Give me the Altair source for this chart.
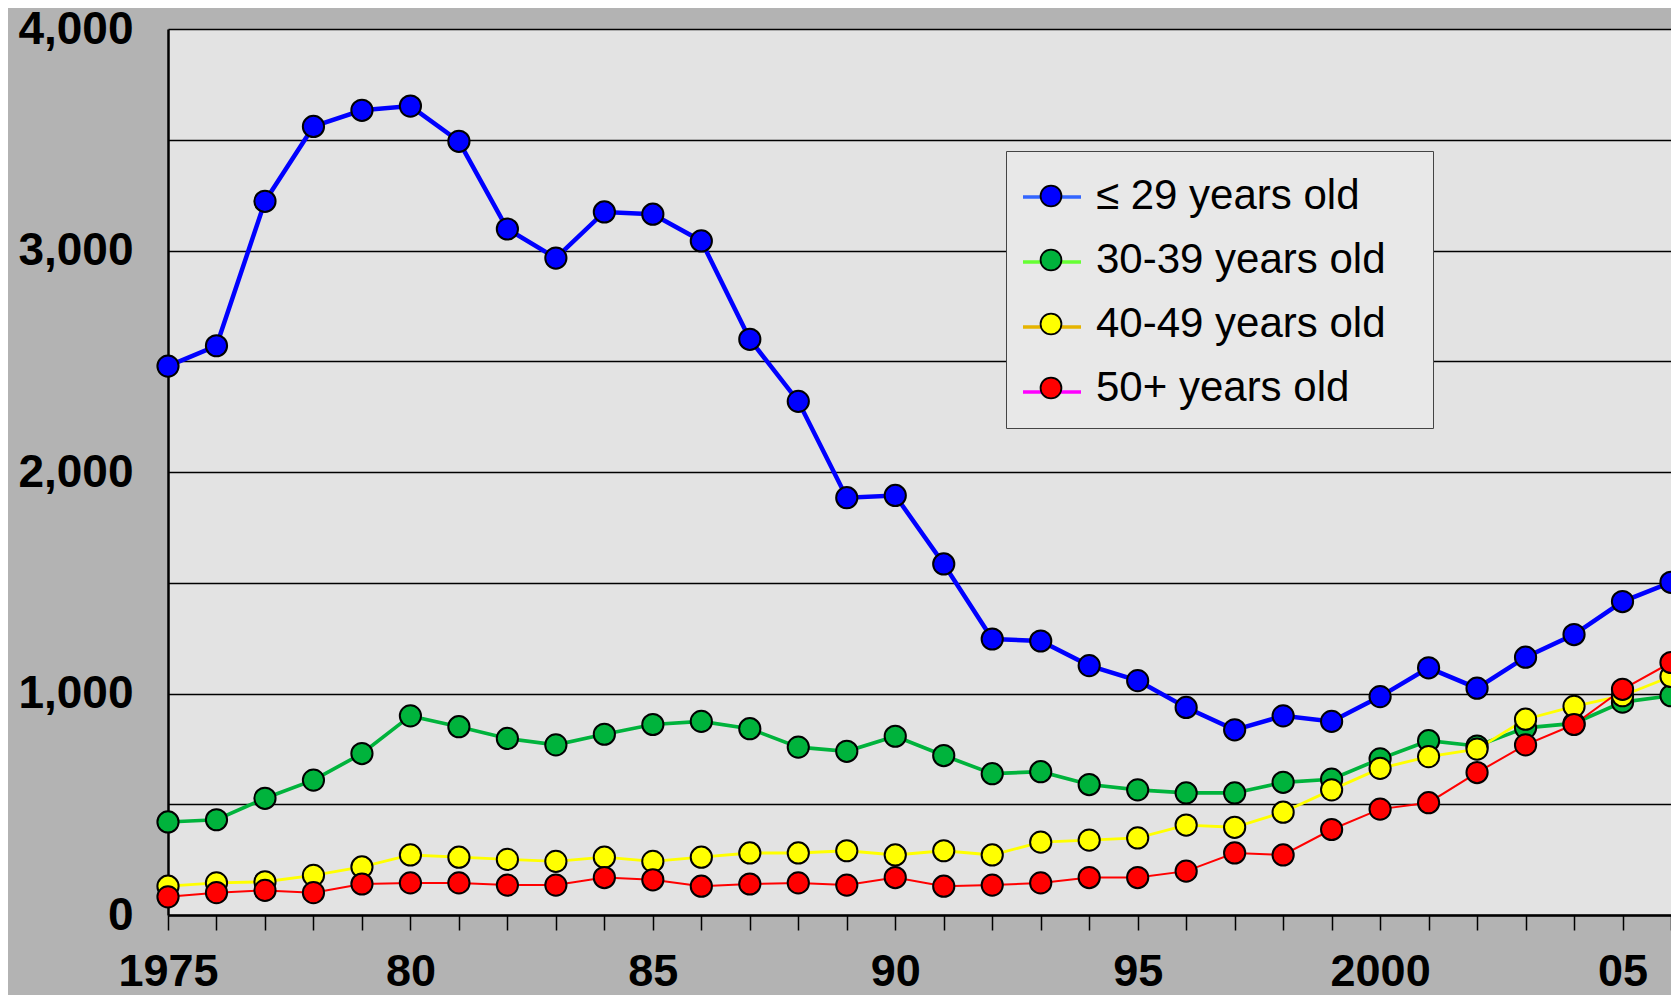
import altair as alt
import pandas as pd

years = list(range(1975, 2007))
groups = ["≤ 29 years old", "30-39 years old", "40-49 years old", "50+ years old"]
under_30 = [2478, 2570, 3222, 3560, 3633, 3652, 3493, 3097, 2966, 3174, 3164, 3043, 2599, 2319, 1884, 1894,
            1585, 1246, 1237, 1126, 1058, 937, 836, 899, 874, 986, 1116, 1024, 1164, 1266, 1415, 1502]
age_30s = [420, 430, 527, 609, 729, 899, 850, 797, 768, 816, 860, 874, 841, 758, 739, 807,
           720, 638, 647, 589, 565, 551, 551, 599, 613, 705, 787, 763, 845, 865, 961, 990]
age_40s = [130, 145, 150, 179, 217, 271, 261, 251, 242, 261, 242, 261, 280, 280, 290, 271,
           290, 271, 329, 338, 348, 406, 396, 464, 565, 662, 715, 749, 884, 942, 990, 1077]
age_50s = [82, 101, 111, 101, 140, 145, 145, 135, 135, 169, 159, 130, 140, 145, 135, 169,
           130, 135, 145, 169, 169, 198, 280, 271, 386, 478, 507, 643, 768, 860, 1019, 1140]

data_colors = ["#0000ff", "#00b33c", "#ffff00", "#ff0000"]
legend_line_colors = ["#3366ff", "#66ff33", "#e6b400", "#ff00ff"]
line_widths = [4.5, 2, 2, 2]
y_ticks = list(range(0, 4001, 500))

# separate keys so that Vega-Lite does not merge the legends of different channels
legend_keys = [g + " " for g in groups]
line_keys = [g + "  " for g in groups]

rows = []
for i, (g, vals) in enumerate(zip(groups, [under_30, age_30s, age_40s, age_50s])):
    for yr, v in zip(years, vals):
        rows.append({"year": yr, "value": v, "group": g, "legend_key": legend_keys[i],
                     "line_key": line_keys[i], "order": i})
df = pd.DataFrame(rows)

x_enc = alt.X(
    "year:Q",
    title=None,
    scale=alt.Scale(domain=[1975, 2006], nice=False, zero=False),
    axis=alt.Axis(
        values=years,
        labelExpr="datum.value == 1975 ? '1975' : datum.value == 2000 ? '2000' : "
                  "datum.value % 5 == 0 ? substring(toString(datum.value), 2, 4) : ''",
        grid=False,
        domainColor="black",
        domainWidth=2.5,
        ticks=True,
        tickColor="black",
        tickWidth=1.5,
        tickSize=15,
        labelFont="Liberation Sans",
        labelFontWeight="bold",
        labelFontSize=45,
        labelColor="black",
        labelPadding=19,
        labelFlush=False,
        labelOverlap=False,
    ),
)
y_enc = alt.Y(
    "value:Q",
    title=None,
    scale=alt.Scale(domain=[0, 4000], nice=False),
    axis=alt.Axis(
        values=y_ticks,
        labelExpr="datum.value % 1000 == 0 ? format(datum.value, ',') : ''",
        grid=True,
        gridColor="black",
        gridWidth=1.6,
        gridOpacity=1,
        domainColor="black",
        domainWidth=2.5,
        ticks=False,
        labelFont="Liberation Sans",
        labelFontWeight="bold",
        labelFontSize=46,
        labelColor="black",
        labelPadding=35,
        labelFlush=False,
        labelOverlap=False,
    ),
)

common_legend = dict(
    orient="none",
    legendX=838,
    legendY=122,
    title=None,
    symbolSize=3364,
    labelFont="Liberation Sans Narrow, Arial Narrow, Liberation Sans, Arial, sans-serif",
    labelFontSize=42,
    labelColor="black",
    labelOffset=15,
    rowPadding=13,
    padding=15,
    labelLimit=1000,
)

# line part of the legend keys, drawn first; it also carries the legend box,
# its (invisible) labels are a little longer so the box gets the reference's width
legend_lines = (
    alt.Chart(df)
    .transform_filter("false")
    .mark_line()
    .encode(
        x=x_enc,
        y=y_enc,
        color=alt.Color(
            "legend_key:N",
            scale=alt.Scale(domain=legend_keys, range=legend_line_colors),
            legend=alt.Legend(
                symbolType="M-1,0H1",
                symbolStrokeWidth=3.5,
                symbolOpacity=1,
                labelOpacity=0,
                labelExpr="datum.label + 'ii'",
                fillColor="#e8e8e8",
                strokeColor="#444444",
                **common_legend,
            ),
        ),
    )
)

lines = alt.Chart(df).mark_line().encode(
    x=x_enc,
    y=y_enc,
    stroke=alt.Stroke("line_key:N", scale=alt.Scale(domain=line_keys, range=data_colors), legend=None),
    strokeWidth=alt.StrokeWidth("line_key:N", scale=alt.Scale(domain=line_keys, range=line_widths), legend=None),
)

points = alt.Chart(df).mark_circle(size=450, stroke="black", strokeWidth=2, opacity=1).encode(
    x=x_enc,
    y=y_enc,
    fill=alt.Fill(
        "group:N",
        scale=alt.Scale(domain=groups, range=data_colors),
        legend=alt.Legend(
            symbolType="M-0.36,0A0.36,0.36,0,1,1,0.36,0A0.36,0.36,0,1,1,-0.36,0Z",
            symbolStrokeColor="black",
            symbolStrokeWidth=1.8,
            symbolOpacity=1,
            **common_legend,
        ),
    ),
    order=alt.Order("order:Q"),
)

chart = (
    alt.layer(legend_lines, lines, points)
    .properties(
        width=1503,
        height=886,
        background="#b3b3b3",
        padding={"left": 160, "top": 21, "right": 0, "bottom": 80},
        autosize=alt.AutoSizeParams(type="none"),
    )
    .configure_view(fill="#e3e3e3", stroke="transparent")
)

chart.save("out.html", embed_options={"renderer": "svg", "actions": False})
